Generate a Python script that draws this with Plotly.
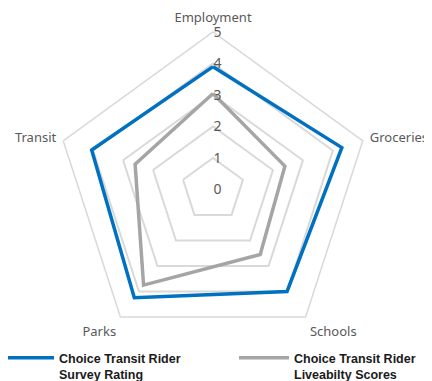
import plotly.graph_objects as go

categories = ["Employment", "Groceries", "Schools", "Parks", "Transit"]
survey_rating = [3.9, 4.3, 4.0, 4.25, 4.05]
liveability = [3.05, 2.4, 2.55, 3.75, 2.6]
radial_ticks = [0, 1, 2, 3, 4, 5]

def closed(v):
    return list(v) + [v[0]]

fig = go.Figure()
fig.add_trace(go.Scatterpolar(
    r=closed(survey_rating), theta=closed(categories), mode="lines",
    name="Choice Transit Rider<br>Survey Rating",
    line=dict(color="#0070C0", width=3.5), legend="legend",
))
fig.add_trace(go.Scatterpolar(
    r=closed(liveability), theta=closed(categories), mode="lines",
    name="Choice Transit Rider<br>Liveabilty Scores",
    line=dict(color="#A5A5A5", width=3.5), legend="legend2",
))

W, H = 432, 381
cx, cy, R = 205, 181.5, 157.5
legend_font = dict(family="Liberation Sans", size=12.5, color="#1A1A1A", weight="bold")
fig.update_layout(
    width=W, height=H,
    margin=dict(l=0, r=0, t=0, b=0, autoexpand=False),
    paper_bgcolor="white",
    font=dict(family="Noto Sans", size=13, color="#595959"),
    polar=dict(
        domain=dict(x=[(cx - R) / W, (cx + R) / W], y=[(H - cy - R) / H, (H - cy + R) / H]),
        gridshape="linear",
        bgcolor="white",
        radialaxis=dict(
            range=[0, 5], tickvals=radial_ticks, angle=90, tickangle=90,
            side="clockwise",
            showline=False, gridcolor="#D9D9D9", gridwidth=1.5,
            ticks="", tickfont=dict(size=14, color="#595959"),
        ),
        angularaxis=dict(
            rotation=90, direction="clockwise", showgrid=False,
            linecolor="#D9D9D9", linewidth=1.5,
            ticks="outside", ticklen=4, tickcolor="rgba(0,0,0,0)",
            tickfont=dict(size=13, color="#595959"),
        ),
    ),
    showlegend=True,
    legend=dict(
        orientation="h", x=-9 / W, y=0, xanchor="left", yanchor="bottom",
        itemwidth=50, valign="top", bgcolor="rgba(0,0,0,0)", font=legend_font,
    ),
    legend2=dict(
        orientation="h", x=226 / W, y=0, xanchor="left", yanchor="bottom",
        itemwidth=50, valign="top", bgcolor="rgba(0,0,0,0)", font=legend_font,
    ),
)
fig.write_html("out.html")
